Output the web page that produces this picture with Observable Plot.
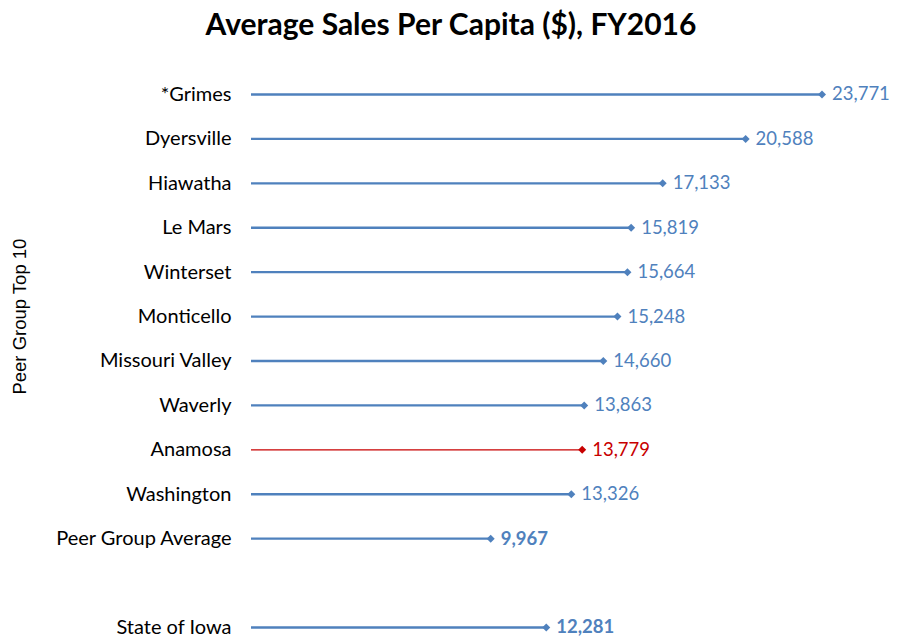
<!DOCTYPE html>
<html>
<head>
<meta charset="utf-8">
<script src="https://cdn.jsdelivr.net/npm/d3@7"></script>
<script src="https://cdn.jsdelivr.net/npm/@observablehq/plot@0.6"></script>
<style>
  body { margin: 0; background: #fff; }
  #title { width: 902px; height: 48px; line-height: 46px; text-align: center; font-family: Lato, "Open Sans", sans-serif; font-weight: bold; font-size: 30px; color: #000; }
  #chart svg { display: block; }
</style>
</head>
<body>
<div id="title">Average Sales Per Capita ($), FY2016</div>
<div id="chart"></div>
<script>
const categories = ["*Grimes","Dyersville","Hiawatha","Le Mars","Winterset","Monticello","Missouri Valley","Waverly","Anamosa","Washington","Peer Group Average","State of Iowa"];
const values = [23771,20588,17133,15819,15664,15248,14660,13863,13779,13326,9967,12281];
const highlight = "Anamosa";
const boldRows = ["Peer Group Average","State of Iowa"];
const spacer = " ";

const data = categories.map((c, i) => ({name: c, value: values[i]}));
const domain = [...categories.slice(0, 11), spacer, ...categories.slice(11)];
const blue = "#4F81BD", red = "#C80000";
const isHi = d => d.name === highlight;
const fmt = d => d3.format(",")(d.value);
const txt = {y: "name", x: "value", text: fmt, dx: 10, textAnchor: "start", fontSize: 18.5, fill: d => isHi(d) ? red : blue};

const chart = Plot.plot({
  width: 902,
  height: 589,
  marginLeft: 251,
  marginRight: 0,
  marginTop: 46,
  marginBottom: 10,
  style: {fontFamily: "Lato, 'Open Sans', sans-serif", background: "#fff"},
  x: {domain: [0, 27125], axis: null},
  y: {type: "point", domain, padding: 0, round: false, label: null},
  marks: [
    Plot.axisY({tickSize: 0, tickPadding: 20, fontSize: 20, color: "#000", tickFormat: d => d.trim(), label: null}),
    Plot.ruleY(data, {y: "name", x1: 0, x2: "value", stroke: d => isHi(d) ? red : blue, strokeWidth: d => isHi(d) ? 1.2 : 2.3}),
    Plot.dot(data, {y: "name", x: "value", symbol: "diamond2", r: 3.6, fill: d => isHi(d) ? red : blue, stroke: "none"}),
    Plot.text(data.filter(d => !boldRows.includes(d.name)), txt),
    Plot.text(data.filter(d => boldRows.includes(d.name)), {...txt, fontWeight: "bold"}),
    Plot.text(["Peer Group Top 10"], {x: () => 0, y: () => "Monticello", rotate: -90, dx: -231, fontSize: 18.5,
      fontFamily: "'Liberation Sans', Arial, sans-serif", fill: "#000", text: d => d})
  ]
});
document.getElementById("chart").append(chart);
</script>
</body>
</html>
